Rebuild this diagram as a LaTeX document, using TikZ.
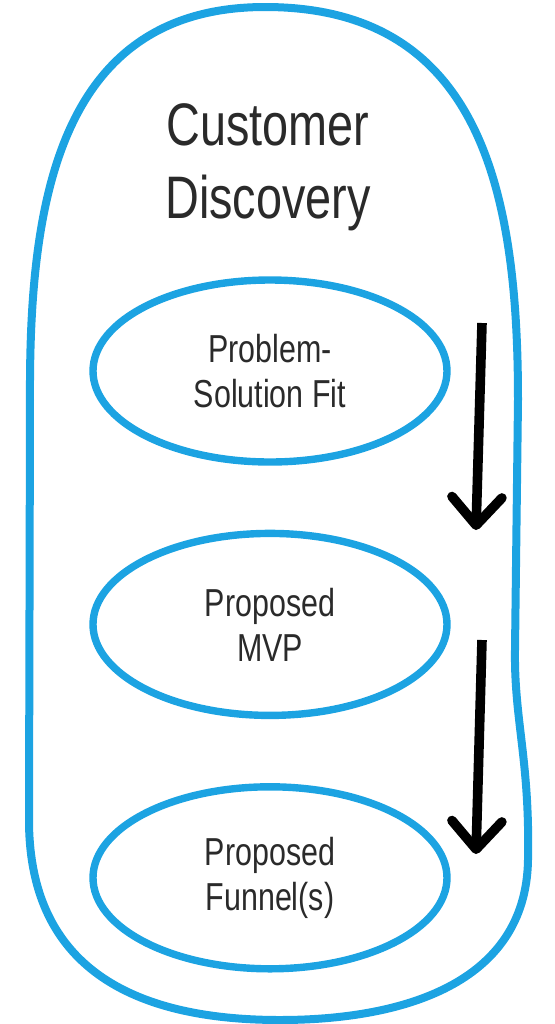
\documentclass[tikz,border=0pt]{standalone}
\usepackage{fontspec}
\setmainfont{Liberation Sans}[FakeStretch=0.78]
\usetikzlibrary{arrows.meta,positioning,shapes.geometric}
\definecolor{sky}{HTML}{1CA3E2}
\definecolor{ink}{HTML}{2A2A2A}

\begin{document}
\begin{tikzpicture}[x=0.5pt,y=-0.5pt,
  title/.style={font=\fontsize{30}{36.5}\selectfont,text=ink,align=center},
  stage/.style={ellipse,draw=sky,line width=3.7pt,minimum width=177pt,minimum height=91pt,
                inner sep=0pt,align=center,text=ink,font=\fontsize{19.5}{22.5}\selectfont},
  arr/.style={-{Straight Barb[length=14pt,width=25pt,round]},line width=4.8pt,draw=black},
  frame/.style={draw=sky,line width=4pt,line join=round}]
\useasboundingbox (0,0) rectangle (555,1024);

% outer outline
\draw[frame] (29,820) -- (30,400) .. controls (29,210) and (55,7) .. (265,7)
  .. controls (480,7) and (518,190) .. (518,400) -- (515,650)
  .. controls (514,720) and (530,760) .. (528,860)
  .. controls (526,985) and (400,1020) .. (280,1020)
  .. controls (110,1020) and (29,950) .. (29,820) -- cycle;

\node[title] (disc) at (268,167) {Customer\\Discovery};

\node[stage] (fit) at (270,371) {Problem-\\Solution Fit};
\node[stage,below=32pt of fit] (mvp) {Proposed\\MVP};
\node[stage,below=32pt of mvp] (funnel) {Proposed\\Funnel(s)};

\coordinate (s1) at (482,323);
\coordinate (e1) at (476,530);
\coordinate (s2) at (482,640);
\coordinate (e2) at (476,854);

\draw[arr] (s1) -- (e1);
\draw[arr] (s2) -- (e2);
\end{tikzpicture}
\end{document}
